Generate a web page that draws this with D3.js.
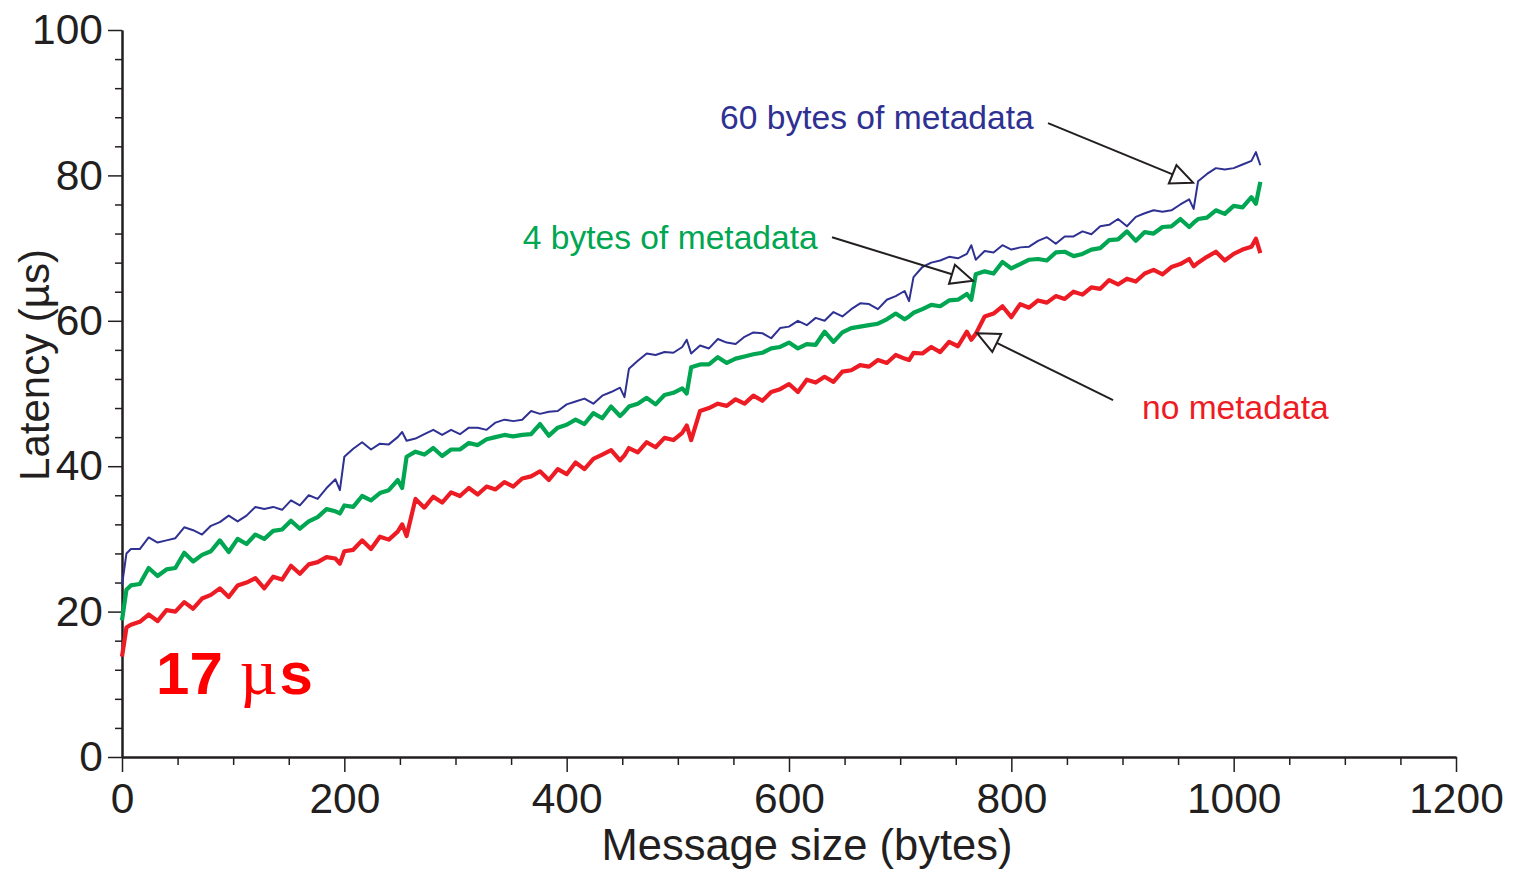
<!DOCTYPE html>
<html>
<head>
<meta charset="utf-8">
<script src="https://cdn.jsdelivr.net/npm/d3@7"></script>
<style>
  html, body { margin: 0; padding: 0; background: #fff; }
  svg { display: block; }
  text { font-family: "Liberation Sans", Arial, Helvetica, sans-serif; }
</style>
</head>
<body>
<svg id="chart" width="1514" height="871"></svg>
<script>
// ---------- data ----------
const sizes = [
  0,4,8,16,24,32,40,48,
  56,64,72,80,88,96,104,112,
  120,128,136,144,152,160,168,176,
  184,192,196,200,208,216,224,232,
  240,248,252,256,264,272,280,288,
  296,304,312,320,328,336,344,352,
  360,368,376,384,392,400,408,416,
  424,432,440,448,452,456,464,472,
  480,488,496,504,508,512,520,528,
  536,544,552,560,568,576,584,592,
  600,608,616,624,632,640,648,656,
  664,672,680,688,696,704,708,712,
  720,728,736,744,752,760,764,768,
  776,784,792,800,808,816,824,832,
  840,848,856,864,872,880,888,896,
  904,912,920,928,936,944,952,960,
  964,968,976,984,992,1000,1008,1016,
  1020,1024
];
const noMetadata = [
  13.8,17.8,18.2,18.6,19.6,18.7,20.2,20.0,
  21.3,20.4,21.8,22.3,23.2,22.0,23.6,24.0,
  24.6,23.2,24.8,24.4,26.3,25.2,26.5,26.8,
  27.5,27.3,26.6,28.3,28.5,29.8,28.6,30.3,
  29.9,31.0,32.0,30.4,35.5,34.3,35.8,35.0,
  36.4,35.9,37.0,36.1,37.2,36.8,37.8,37.2,
  38.3,38.6,39.3,38.1,39.6,38.9,40.5,39.6,
  41.0,41.6,42.2,40.8,41.5,42.5,41.9,43.3,
  42.6,43.9,43.6,44.6,45.6,43.6,47.6,48.0,
  48.6,48.3,49.2,48.6,49.7,49.0,50.2,50.6,
  51.3,50.2,51.9,51.5,52.3,51.6,53.0,53.2,
  53.9,53.7,54.6,54.2,55.3,54.8,54.6,55.6,
  55.5,56.4,55.7,57.1,56.5,58.5,57.4,58.2,
  60.6,61.0,62.0,60.5,62.3,61.8,62.8,62.5,
  63.4,63.0,64.0,63.6,64.6,64.4,65.6,65.0,
  65.8,65.4,66.5,67.0,66.4,67.4,67.8,68.5,
  67.5,68.0,68.8,69.5,68.3,69.2,69.8,70.2,
  71.3,69.3
];
const meta4 = [
  18.8,23.0,23.6,23.8,26.0,24.9,25.8,26.0,
  28.1,26.9,27.8,28.3,29.8,28.2,30.0,29.3,
  30.6,30.0,31.1,31.3,32.5,31.4,32.4,33.0,
  34.1,33.8,33.5,34.6,34.4,35.9,35.3,36.3,
  36.7,38.1,37.0,41.3,42.0,41.6,42.5,41.4,
  42.3,42.3,43.2,42.9,43.7,44.0,44.3,44.1,
  44.3,44.4,45.8,44.2,45.3,45.7,46.4,45.8,
  47.3,46.6,48.2,46.9,47.5,48.2,48.6,49.4,
  48.5,49.8,50.1,50.7,50.0,53.6,54.0,54.0,
  55.0,54.2,54.8,55.1,55.4,55.6,56.2,56.4,
  57.0,56.2,56.8,56.7,58.5,57.1,58.4,59.0,
  59.2,59.4,59.6,60.2,61.0,60.2,60.6,61.1,
  61.6,62.2,62.0,62.8,62.9,63.7,62.9,66.4,
  66.8,66.5,68.1,67.2,67.8,68.4,68.5,68.3,
  69.4,69.5,68.9,69.2,69.8,70.0,71.1,71.2,
  72.3,71.0,72.2,72.0,72.9,73.0,74.0,72.9,
  73.5,74.0,74.2,75.2,74.7,75.8,75.6,77.0,
  76.1,79.1
];
const meta60 = [
  23.6,28.0,28.6,28.6,30.2,29.5,29.8,30.1,
  31.6,31.2,30.6,31.8,32.3,33.2,32.4,33.2,
  34.4,34.1,34.4,34.0,35.3,34.6,36.0,35.5,
  37.0,38.2,36.7,41.3,42.4,43.3,42.3,43.1,
  43.0,44.0,44.7,43.5,43.8,44.4,45.0,44.3,
  45.0,44.4,45.3,45.3,45.0,46.0,46.4,46.2,
  46.4,47.6,47.2,47.5,47.6,48.5,48.9,49.3,
  48.6,49.7,50.2,50.8,49.5,53.4,54.5,55.5,
  55.3,55.7,55.6,56.4,57.4,55.5,56.6,56.2,
  57.5,57.0,56.8,57.8,58.4,58.3,57.6,59.0,
  59.2,60.0,59.4,60.4,60.0,61.2,60.6,61.6,
  62.4,62.3,61.6,62.9,63.4,64.1,62.7,66.0,
  67.4,68.0,68.3,68.8,68.6,69.2,70.4,68.4,
  69.6,69.4,70.4,69.8,70.1,70.2,71.0,71.5,
  70.6,71.6,71.6,72.3,71.9,73.0,73.2,74.0,
  73.0,74.3,74.8,75.2,75.0,75.2,76.0,76.7,
  75.4,79.2,80.2,81.0,80.8,81.0,81.5,82.0,
  83.2,81.4
];
const xTicks = [0, 200, 400, 600, 800, 1000, 1200];
const xMinorTicks = [50, 100, 150, 250, 300, 350, 450, 500, 550, 650, 700, 750, 850, 900, 950, 1050, 1100, 1150];
const yTicks = [0, 20, 40, 60, 80, 100];
const yMinorTicks = [4, 8, 12, 16, 24, 28, 32, 36, 44, 48, 52, 56, 64, 68, 72, 76, 84, 88, 92, 96];
const seriesNames = ["60 bytes of metadata", "4 bytes of metadata", "no metadata"];
const xTitle = "Message size (bytes)";
const yTitle = "Latency (µs)";

// ---------- layout ----------
const svg = d3.select("#chart");
const x = d3.scaleLinear().domain([0, 1200]).range([122, 1456]);
const y = d3.scaleLinear().domain([0, 100]).range([757, 30]);
const axisColor = "#231f20";

const series = [
  { name: seriesNames[0], values: meta60, color: "#2e3192", width: 2 },
  { name: seriesNames[1], values: meta4, color: "#00a651", width: 4.2 },
  { name: seriesNames[2], values: noMetadata, color: "#ed1c24", width: 4.2 }
];

// ---------- axes ----------
const xMinor = svg.append("g").attr("transform", `translate(0,${y(0)})`)
  .call(d3.axisBottom(x).tickValues(xMinorTicks).tickSize(8).tickSizeOuter(0).tickFormat(""));
const xMajor = svg.append("g").attr("transform", `translate(0,${y(0)})`)
  .call(d3.axisBottom(x).tickValues(xTicks).tickSize(15).tickPadding(11).tickSizeOuter(0).tickFormat(d3.format("d")));
const yMinor = svg.append("g").attr("transform", `translate(${x(0)},0)`)
  .call(d3.axisLeft(y).tickValues(yMinorTicks).tickSize(7).tickSizeOuter(0).tickFormat(""));
const yMajor = svg.append("g").attr("transform", `translate(${x(0)},0)`)
  .call(d3.axisLeft(y).tickValues(yTicks).tickSize(14).tickPadding(5).tickSizeOuter(0).tickFormat(d3.format("d")));

[xMinor, xMajor, yMinor, yMajor].forEach(g => {
  g.selectAll("path.domain").attr("stroke", axisColor).attr("stroke-width", 2);
  g.selectAll(".tick line").attr("stroke", axisColor).attr("stroke-width", 1.5);
  g.selectAll(".tick text")
    .attr("fill", axisColor)
    .style("font-family", '"Liberation Sans", Arial, Helvetica, sans-serif')
    .style("font-size", "42.5px");
});

// axis titles
svg.append("text")
  .attr("x", 807)
  .attr("y", 860)
  .attr("text-anchor", "middle")
  .attr("fill", axisColor)
  .style("font-size", "43.5px")
  .text(xTitle);

svg.append("text")
  .attr("transform", `translate(49,${365}) rotate(-90)`)
  .attr("text-anchor", "middle")
  .attr("fill", axisColor)
  .style("font-size", "42px")
  .text(yTitle);

// ---------- lines ----------
const line = d3.line()
  .x((d, i) => x(sizes[i]))
  .y(d => y(d));

series.forEach(s => {
  svg.append("path")
    .datum(s.values)
    .attr("fill", "none")
    .attr("stroke", s.color)
    .attr("stroke-width", s.width)
    .attr("stroke-linejoin", "round")
    .attr("d", line);
});

// ---------- annotations ----------
const labels = [
  { text: seriesNames[0], bx: 538, v: 86.4, color: "#2e3192" },
  { text: seriesNames[1], bx: 360.5, v: 69.9, color: "#00a651" },
  { text: seriesNames[2], bx: 917.5, v: 46.5, color: "#ed1c24" }
];
labels.forEach(l => {
  svg.append("text")
    .attr("x", x(l.bx))
    .attr("y", y(l.v))
    .attr("fill", l.color)
    .style("font-size", "33.6px")
    .text(l.text);
});

const arrows = [
  { from: [833, 87.2], to: [963.4, 79.0] },
  { from: [638.7, 71.5], to: [765.5, 65.5] },
  { from: [891.5, 49.1], to: [769.1, 58.3] }
];
arrows.forEach(a => {
  const x1 = x(a.from[0]), y1 = y(a.from[1]);
  const x2 = x(a.to[0]), y2 = y(a.to[1]);
  const ang = Math.atan2(y2 - y1, x2 - x1);
  const len = 22, half = 10;
  const bx = x2 - len * Math.cos(ang), by = y2 - len * Math.sin(ang);
  const px = -Math.sin(ang) * half, py = Math.cos(ang) * half;
  svg.append("line")
    .attr("x1", x1).attr("y1", y1).attr("x2", bx).attr("y2", by)
    .attr("stroke", axisColor).attr("stroke-width", 2);
  svg.append("path")
    .attr("d", `M${x2},${y2}L${bx + px},${by + py}L${bx - px},${by - py}Z`)
    .attr("fill", "#fff")
    .attr("stroke", axisColor)
    .attr("stroke-width", 2)
    .attr("stroke-linejoin", "miter");
});

// big "17 µs" callout
const big = svg.append("text")
  .attr("x", x(30.6))
  .attr("y", y(8.7))
  .attr("fill", "#ff0000")
  .style("font-size", "60px")
  .style("font-weight", "bold");
big.append("tspan").text("17 ");
big.append("tspan")
  .style("font-family", '"Liberation Serif", "Times New Roman", serif')
  .style("font-weight", "normal")
  .style("font-size", "66px")
  .text("µ");
big.append("tspan").attr("dx", 2).text("s");
</script>
</body>
</html>
